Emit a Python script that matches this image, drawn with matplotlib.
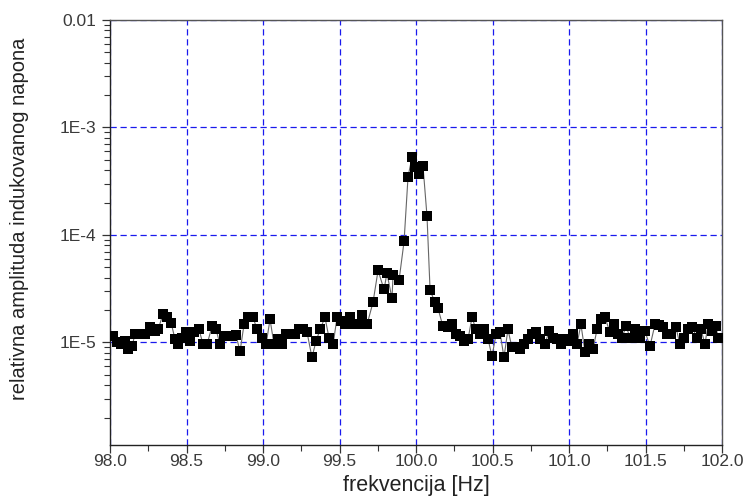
import matplotlib
matplotlib.use("Agg")
import matplotlib.pyplot as plt
from matplotlib.ticker import FixedLocator, FixedFormatter, MultipleLocator, LogLocator, NullFormatter

plt.rcParams['font.family'] = ['Liberation Sans', 'DejaVu Sans']

# Measured spectrum around the 100 Hz excitation
freq = [
    98.020, 98.046, 98.072, 98.098, 98.118, 98.144, 98.163, 98.196, 98.229, 98.261,
    98.294, 98.314, 98.346, 98.373, 98.399, 98.425, 98.444, 98.471, 98.497, 98.523,
    98.549, 98.582, 98.608, 98.634, 98.667, 98.693, 98.719, 98.745, 98.771, 98.797,
    98.824, 98.850, 98.876, 98.902, 98.935, 98.961, 98.993, 99.020, 99.046, 99.072,
    99.098, 99.124, 99.150, 99.176, 99.209, 99.235, 99.261, 99.288, 99.320, 99.346,
    99.373, 99.405, 99.431, 99.458, 99.484, 99.510, 99.536, 99.569, 99.595, 99.621,
    99.647, 99.680, 99.719, 99.752, 99.791, 99.810, 99.843, 99.850, 99.889, 99.922,
    99.948, 99.974, 99.993, 100.020, 100.046, 100.072, 100.092, 100.124, 100.144, 100.176,
    100.209, 100.235, 100.261, 100.288, 100.314, 100.340, 100.366, 100.392, 100.418, 100.444,
    100.471, 100.497, 100.523, 100.549, 100.575, 100.601, 100.627, 100.654, 100.680, 100.706,
    100.732, 100.758, 100.784, 100.810, 100.843, 100.869, 100.895, 100.922, 100.948, 100.980,
    101.000, 101.026, 101.052, 101.078, 101.105, 101.131, 101.157, 101.183, 101.209, 101.235,
    101.268, 101.294, 101.320, 101.346, 101.373, 101.399, 101.431, 101.464, 101.497, 101.529,
    101.562, 101.588, 101.614, 101.641, 101.667, 101.699, 101.725, 101.752, 101.778, 101.804,
    101.837, 101.863, 101.889, 101.908, 101.935, 101.961, 101.974,
]

amplitude = [
    1.14e-5, 1.00e-5, 0.958e-5, 1.04e-5, 0.861e-5, 0.918e-5, 1.19e-5, 1.19e-5, 1.19e-5, 1.38e-5,
    1.27e-5, 1.32e-5, 1.82e-5, 1.71e-5, 1.53e-5, 1.07e-5, 0.958e-5, 1.11e-5, 1.24e-5, 1.02e-5,
    1.24e-5, 1.32e-5, 0.958e-5, 0.958e-5, 1.41e-5, 1.32e-5, 0.958e-5, 1.14e-5, 1.14e-5, 1.14e-5,
    1.16e-5, 0.825e-5, 1.47e-5, 1.71e-5, 1.71e-5, 1.32e-5, 1.11e-5, 0.958e-5, 1.64e-5, 0.958e-5,
    1.07e-5, 0.958e-5, 1.19e-5, 1.19e-5, 1.19e-5, 1.32e-5, 1.32e-5, 1.24e-5, 0.725e-5, 1.02e-5,
    1.32e-5, 1.71e-5, 1.11e-5, 0.958e-5, 1.71e-5, 1.57e-5, 1.47e-5, 1.71e-5, 1.47e-5, 1.47e-5,
    1.78e-5, 1.47e-5, 2.36e-5, 4.67e-5, 3.11e-5, 4.39e-5, 2.57e-5, 4.20e-5, 3.77e-5, 8.69e-5,
    3.49e-4, 5.26e-4, 4.25e-4, 3.70e-4, 4.34e-4, 1.49e-4, 3.06e-5, 2.36e-5, 2.07e-5, 1.41e-5,
    1.38e-5, 1.47e-5, 1.19e-5, 1.14e-5, 1.02e-5, 1.07e-5, 1.71e-5, 1.32e-5, 1.19e-5, 1.32e-5,
    1.07e-5, 0.741e-5, 1.19e-5, 1.24e-5, 0.725e-5, 1.32e-5, 0.898e-5, 0.898e-5, 0.861e-5, 0.958e-5,
    1.07e-5, 1.19e-5, 1.24e-5, 1.07e-5, 0.958e-5, 1.27e-5, 1.11e-5, 1.07e-5, 0.958e-5, 1.07e-5,
    1.02e-5, 1.19e-5, 0.958e-5, 1.47e-5, 0.807e-5, 0.958e-5, 0.861e-5, 1.32e-5, 1.64e-5, 1.71e-5,
    1.24e-5, 1.47e-5, 1.19e-5, 1.11e-5, 1.41e-5, 1.11e-5, 1.32e-5, 1.11e-5, 1.27e-5, 0.918e-5,
    1.47e-5, 1.44e-5, 1.38e-5, 1.21e-5, 1.19e-5, 1.38e-5, 0.958e-5, 1.11e-5, 1.32e-5, 1.38e-5,
    1.11e-5, 1.32e-5, 0.958e-5, 1.47e-5, 1.27e-5, 1.41e-5, 1.11e-5,
]

x_ticks = [98.0, 98.5, 99.0, 99.5, 100.0, 100.5, 101.0, 101.5, 102.0]
x_tick_labels = ["98.0", "98.5", "99.0", "99.5", "100.0", "100.5", "101.0", "101.5", "102.0"]
y_ticks = [1e-5, 1e-4, 1e-3, 1e-2]
y_tick_labels = ["1E-5", "1E-4", "1E-3", "0.01"]

text_color = "#3a3a3a"

fig = plt.figure(figsize=(7.45, 5.0), dpi=100)
ax = fig.add_axes([110 / 745, 1 - 445 / 500, 612 / 745, 425 / 500])

ax.plot(freq, amplitude, color="#666666", linewidth=0.8, zorder=3)
ax.plot(freq, amplitude, linestyle="none", marker="s", markersize=7.2,
        markerfacecolor="black", markeredgewidth=0, zorder=4)

ax.set_yscale("log")
ax.set_xlim(98.0, 102.0)
ax.set_ylim(1.11e-6, 1e-2)

ax.xaxis.set_major_locator(FixedLocator(x_ticks))
ax.xaxis.set_major_formatter(FixedFormatter(x_tick_labels))
ax.xaxis.set_minor_locator(MultipleLocator(0.25))

ax.yaxis.set_major_locator(FixedLocator(y_ticks))
ax.yaxis.set_major_formatter(FixedFormatter(y_tick_labels))
ax.yaxis.set_minor_locator(LogLocator(base=10, subs=range(2, 10), numticks=20))
ax.yaxis.set_minor_formatter(NullFormatter())

ax.grid(True, which="major", color="#1a1aee", linestyle=(0, (5, 3)), linewidth=0.9, zorder=1)

ax.tick_params(which="major", direction="out", length=6, width=0.9, color="#333333",
               labelsize=12.5, labelcolor=text_color)
ax.tick_params(which="minor", direction="out", length=4, width=0.8, color="#333333")
ax.tick_params(axis="x", which="major", pad=0.5)
ax.tick_params(axis="y", which="major", pad=4)
ax.tick_params(top=False, right=False, which="both")

for side in ("left", "bottom"):
    ax.spines[side].set_color("#222222")
    ax.spines[side].set_linewidth(1.0)
for side in ("top", "right"):
    ax.spines[side].set_color("#555555")
    ax.spines[side].set_linewidth(1.0)

ax.set_xlabel("frekvencija [Hz]", fontsize=15.5, color="#222222", labelpad=4)
ax.set_ylabel("relativna amplituda indukovanog napona", fontsize=14.5, color="#222222")
ax.yaxis.set_label_coords(-0.132, 0.532)

fig.savefig("out.png", dpi=100)
